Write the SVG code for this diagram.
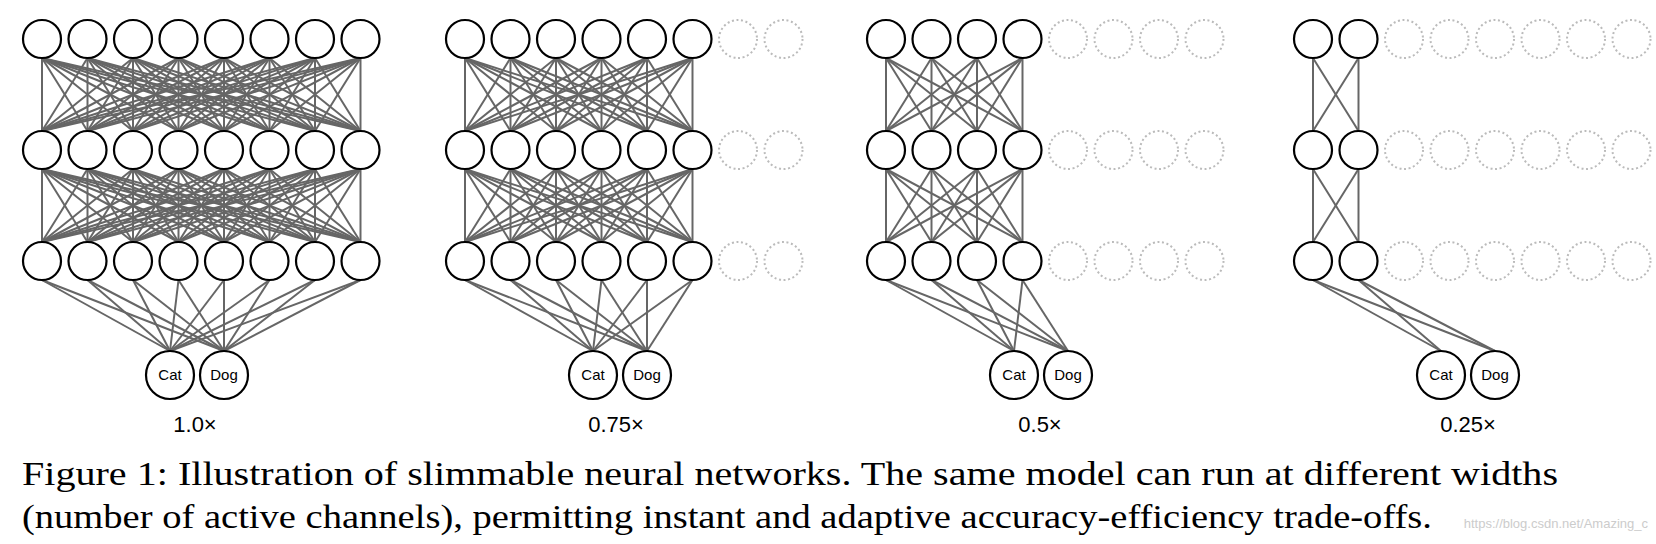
<svg xmlns="http://www.w3.org/2000/svg" xmlns:xlink="http://www.w3.org/1999/xlink" width="1656" height="544" viewBox="0 0 1656 544">
<style>
.n{fill:#fff;stroke:#000;stroke-width:2.2}
.d{fill:none;stroke:#bbb;stroke-width:2;stroke-dasharray:2 2.6}
.e line,line.e{stroke:#666;stroke-width:2}
.lb{font-family:"Liberation Sans",Arial,sans-serif;font-size:15px;text-anchor:middle}
.sc{font-family:"Liberation Sans",Arial,sans-serif;font-size:22px;text-anchor:middle}
</style>
<defs>
<g id="m2" class="e"><line x1="0" y1="0" x2="0" y2="73"/><line x1="0" y1="0" x2="45.5" y2="73"/><line x1="45.5" y1="0" x2="0" y2="73"/><line x1="45.5" y1="0" x2="45.5" y2="73"/></g>
<g id="m4" class="e">
<line x1="0" y1="0" x2="0" y2="73"/><line x1="0" y1="0" x2="45.5" y2="73"/><line x1="0" y1="0" x2="91" y2="73"/><line x1="0" y1="0" x2="136.5" y2="73"/>
<line x1="45.5" y1="0" x2="0" y2="73"/><line x1="45.5" y1="0" x2="45.5" y2="73"/><line x1="45.5" y1="0" x2="91" y2="73"/><line x1="45.5" y1="0" x2="136.5" y2="73"/>
<line x1="91" y1="0" x2="0" y2="73"/><line x1="91" y1="0" x2="45.5" y2="73"/><line x1="91" y1="0" x2="91" y2="73"/><line x1="91" y1="0" x2="136.5" y2="73"/>
<line x1="136.5" y1="0" x2="0" y2="73"/><line x1="136.5" y1="0" x2="45.5" y2="73"/><line x1="136.5" y1="0" x2="91" y2="73"/><line x1="136.5" y1="0" x2="136.5" y2="73"/>
</g>
<g id="m6" class="e">
<line x1="0" y1="0" x2="0" y2="73"/><line x1="0" y1="0" x2="45.5" y2="73"/><line x1="0" y1="0" x2="91" y2="73"/><line x1="0" y1="0" x2="136.5" y2="73"/><line x1="0" y1="0" x2="182" y2="73"/><line x1="0" y1="0" x2="227.5" y2="73"/>
<line x1="45.5" y1="0" x2="0" y2="73"/><line x1="45.5" y1="0" x2="45.5" y2="73"/><line x1="45.5" y1="0" x2="91" y2="73"/><line x1="45.5" y1="0" x2="136.5" y2="73"/><line x1="45.5" y1="0" x2="182" y2="73"/><line x1="45.5" y1="0" x2="227.5" y2="73"/>
<line x1="91" y1="0" x2="0" y2="73"/><line x1="91" y1="0" x2="45.5" y2="73"/><line x1="91" y1="0" x2="91" y2="73"/><line x1="91" y1="0" x2="136.5" y2="73"/><line x1="91" y1="0" x2="182" y2="73"/><line x1="91" y1="0" x2="227.5" y2="73"/>
<line x1="136.5" y1="0" x2="0" y2="73"/><line x1="136.5" y1="0" x2="45.5" y2="73"/><line x1="136.5" y1="0" x2="91" y2="73"/><line x1="136.5" y1="0" x2="136.5" y2="73"/><line x1="136.5" y1="0" x2="182" y2="73"/><line x1="136.5" y1="0" x2="227.5" y2="73"/>
<line x1="182" y1="0" x2="0" y2="73"/><line x1="182" y1="0" x2="45.5" y2="73"/><line x1="182" y1="0" x2="91" y2="73"/><line x1="182" y1="0" x2="136.5" y2="73"/><line x1="182" y1="0" x2="182" y2="73"/><line x1="182" y1="0" x2="227.5" y2="73"/>
<line x1="227.5" y1="0" x2="0" y2="73"/><line x1="227.5" y1="0" x2="45.5" y2="73"/><line x1="227.5" y1="0" x2="91" y2="73"/><line x1="227.5" y1="0" x2="136.5" y2="73"/><line x1="227.5" y1="0" x2="182" y2="73"/><line x1="227.5" y1="0" x2="227.5" y2="73"/>
</g>
<g id="m8" class="e">
<line x1="0" y1="0" x2="0" y2="73"/><line x1="0" y1="0" x2="45.5" y2="73"/><line x1="0" y1="0" x2="91" y2="73"/><line x1="0" y1="0" x2="136.5" y2="73"/><line x1="0" y1="0" x2="182" y2="73"/><line x1="0" y1="0" x2="227.5" y2="73"/><line x1="0" y1="0" x2="273" y2="73"/><line x1="0" y1="0" x2="318.5" y2="73"/>
<line x1="45.5" y1="0" x2="0" y2="73"/><line x1="45.5" y1="0" x2="45.5" y2="73"/><line x1="45.5" y1="0" x2="91" y2="73"/><line x1="45.5" y1="0" x2="136.5" y2="73"/><line x1="45.5" y1="0" x2="182" y2="73"/><line x1="45.5" y1="0" x2="227.5" y2="73"/><line x1="45.5" y1="0" x2="273" y2="73"/><line x1="45.5" y1="0" x2="318.5" y2="73"/>
<line x1="91" y1="0" x2="0" y2="73"/><line x1="91" y1="0" x2="45.5" y2="73"/><line x1="91" y1="0" x2="91" y2="73"/><line x1="91" y1="0" x2="136.5" y2="73"/><line x1="91" y1="0" x2="182" y2="73"/><line x1="91" y1="0" x2="227.5" y2="73"/><line x1="91" y1="0" x2="273" y2="73"/><line x1="91" y1="0" x2="318.5" y2="73"/>
<line x1="136.5" y1="0" x2="0" y2="73"/><line x1="136.5" y1="0" x2="45.5" y2="73"/><line x1="136.5" y1="0" x2="91" y2="73"/><line x1="136.5" y1="0" x2="136.5" y2="73"/><line x1="136.5" y1="0" x2="182" y2="73"/><line x1="136.5" y1="0" x2="227.5" y2="73"/><line x1="136.5" y1="0" x2="273" y2="73"/><line x1="136.5" y1="0" x2="318.5" y2="73"/>
<line x1="182" y1="0" x2="0" y2="73"/><line x1="182" y1="0" x2="45.5" y2="73"/><line x1="182" y1="0" x2="91" y2="73"/><line x1="182" y1="0" x2="136.5" y2="73"/><line x1="182" y1="0" x2="182" y2="73"/><line x1="182" y1="0" x2="227.5" y2="73"/><line x1="182" y1="0" x2="273" y2="73"/><line x1="182" y1="0" x2="318.5" y2="73"/>
<line x1="227.5" y1="0" x2="0" y2="73"/><line x1="227.5" y1="0" x2="45.5" y2="73"/><line x1="227.5" y1="0" x2="91" y2="73"/><line x1="227.5" y1="0" x2="136.5" y2="73"/><line x1="227.5" y1="0" x2="182" y2="73"/><line x1="227.5" y1="0" x2="227.5" y2="73"/><line x1="227.5" y1="0" x2="273" y2="73"/><line x1="227.5" y1="0" x2="318.5" y2="73"/>
<line x1="273" y1="0" x2="0" y2="73"/><line x1="273" y1="0" x2="45.5" y2="73"/><line x1="273" y1="0" x2="91" y2="73"/><line x1="273" y1="0" x2="136.5" y2="73"/><line x1="273" y1="0" x2="182" y2="73"/><line x1="273" y1="0" x2="227.5" y2="73"/><line x1="273" y1="0" x2="273" y2="73"/><line x1="273" y1="0" x2="318.5" y2="73"/>
<line x1="318.5" y1="0" x2="0" y2="73"/><line x1="318.5" y1="0" x2="45.5" y2="73"/><line x1="318.5" y1="0" x2="91" y2="73"/><line x1="318.5" y1="0" x2="136.5" y2="73"/><line x1="318.5" y1="0" x2="182" y2="73"/><line x1="318.5" y1="0" x2="227.5" y2="73"/><line x1="318.5" y1="0" x2="273" y2="73"/><line x1="318.5" y1="0" x2="318.5" y2="73"/>
</g>
<g id="row8"><circle class="n" cx="0" r="19"/><circle class="n" cx="45.5" r="19"/><circle class="n" cx="91" r="19"/><circle class="n" cx="136.5" r="19"/><circle class="n" cx="182" r="19"/><circle class="n" cx="227.5" r="19"/><circle class="n" cx="273" r="19"/><circle class="n" cx="318.5" r="19"/></g>
<g id="row6"><circle class="n" cx="0" r="19"/><circle class="n" cx="45.5" r="19"/><circle class="n" cx="91" r="19"/><circle class="n" cx="136.5" r="19"/><circle class="n" cx="182" r="19"/><circle class="n" cx="227.5" r="19"/><circle class="d" cx="273" r="19"/><circle class="d" cx="318.5" r="19"/></g>
<g id="row4"><circle class="n" cx="0" r="19"/><circle class="n" cx="45.5" r="19"/><circle class="n" cx="91" r="19"/><circle class="n" cx="136.5" r="19"/><circle class="d" cx="182" r="19"/><circle class="d" cx="227.5" r="19"/><circle class="d" cx="273" r="19"/><circle class="d" cx="318.5" r="19"/></g>
<g id="row2"><circle class="n" cx="0" r="19"/><circle class="n" cx="45.5" r="19"/><circle class="d" cx="91" r="19"/><circle class="d" cx="136.5" r="19"/><circle class="d" cx="182" r="19"/><circle class="d" cx="227.5" r="19"/><circle class="d" cx="273" r="19"/><circle class="d" cx="318.5" r="19"/></g>
</defs>

<g id="connectors">
<use xlink:href="#m8" x="42" y="58"/><use xlink:href="#m8" x="42" y="169"/>
<use xlink:href="#m6" x="465" y="58"/><use xlink:href="#m6" x="465" y="169"/>
<use xlink:href="#m4" x="886" y="58"/><use xlink:href="#m4" x="886" y="169"/>
<use xlink:href="#m2" x="1313" y="58"/><use xlink:href="#m2" x="1313" y="169"/>
<g class="e">
<line x1="42" y1="280" x2="170" y2="351"/><line x1="87.5" y1="280" x2="170" y2="351"/><line x1="133" y1="280" x2="170" y2="351"/><line x1="178.5" y1="280" x2="170" y2="351"/><line x1="224" y1="280" x2="170" y2="351"/><line x1="269.5" y1="280" x2="170" y2="351"/><line x1="315" y1="280" x2="170" y2="351"/><line x1="360.5" y1="280" x2="170" y2="351"/>
<line x1="42" y1="280" x2="224" y2="351"/><line x1="87.5" y1="280" x2="224" y2="351"/><line x1="133" y1="280" x2="224" y2="351"/><line x1="178.5" y1="280" x2="224" y2="351"/><line x1="224" y1="280" x2="224" y2="351"/><line x1="269.5" y1="280" x2="224" y2="351"/><line x1="315" y1="280" x2="224" y2="351"/><line x1="360.5" y1="280" x2="224" y2="351"/>
<line x1="465" y1="280" x2="593" y2="351"/><line x1="510.5" y1="280" x2="593" y2="351"/><line x1="556" y1="280" x2="593" y2="351"/><line x1="601.5" y1="280" x2="593" y2="351"/><line x1="647" y1="280" x2="593" y2="351"/><line x1="692.5" y1="280" x2="593" y2="351"/>
<line x1="465" y1="280" x2="647" y2="351"/><line x1="510.5" y1="280" x2="647" y2="351"/><line x1="556" y1="280" x2="647" y2="351"/><line x1="601.5" y1="280" x2="647" y2="351"/><line x1="647" y1="280" x2="647" y2="351"/><line x1="692.5" y1="280" x2="647" y2="351"/>
<line x1="886" y1="280" x2="1014" y2="351"/><line x1="931.5" y1="280" x2="1014" y2="351"/><line x1="977" y1="280" x2="1014" y2="351"/><line x1="1022.5" y1="280" x2="1014" y2="351"/>
<line x1="886" y1="280" x2="1068" y2="351"/><line x1="931.5" y1="280" x2="1068" y2="351"/><line x1="977" y1="280" x2="1068" y2="351"/><line x1="1022.5" y1="280" x2="1068" y2="351"/>
<line x1="1313" y1="280" x2="1441" y2="351"/><line x1="1358.5" y1="280" x2="1441" y2="351"/>
<line x1="1313" y1="280" x2="1495" y2="351"/><line x1="1358.5" y1="280" x2="1495" y2="351"/>
</g>
</g>

<g id="net-1.0">
<use id="n1-l1" xlink:href="#row8" x="42" y="39"/><use id="n1-l2" xlink:href="#row8" x="42" y="150"/><use id="n1-l3" xlink:href="#row8" x="42" y="261"/>
</g>
<g id="net-0.75">
<use id="n2-l1" xlink:href="#row6" x="465" y="39"/><use id="n2-l2" xlink:href="#row6" x="465" y="150"/><use id="n2-l3" xlink:href="#row6" x="465" y="261"/>
</g>
<g id="net-0.5">
<use id="n3-l1" xlink:href="#row4" x="886" y="39"/><use id="n3-l2" xlink:href="#row4" x="886" y="150"/><use id="n3-l3" xlink:href="#row4" x="886" y="261"/>
</g>
<g id="net-0.25">
<use id="n4-l1" xlink:href="#row2" x="1313" y="39"/><use id="n4-l2" xlink:href="#row2" x="1313" y="150"/><use id="n4-l3" xlink:href="#row2" x="1313" y="261"/>
</g>

<g id="cat1"><circle class="n" cx="170" cy="375" r="24"/><text class="lb" x="170" y="380">Cat</text></g>
<g id="dog1"><circle class="n" cx="224" cy="375" r="24"/><text class="lb" x="224" y="380">Dog</text></g>
<g id="cat2"><circle class="n" cx="593" cy="375" r="24"/><text class="lb" x="593" y="380">Cat</text></g>
<g id="dog2"><circle class="n" cx="647" cy="375" r="24"/><text class="lb" x="647" y="380">Dog</text></g>
<g id="cat3"><circle class="n" cx="1014" cy="375" r="24"/><text class="lb" x="1014" y="380">Cat</text></g>
<g id="dog3"><circle class="n" cx="1068" cy="375" r="24"/><text class="lb" x="1068" y="380">Dog</text></g>
<g id="cat4"><circle class="n" cx="1441" cy="375" r="24"/><text class="lb" x="1441" y="380">Cat</text></g>
<g id="dog4"><circle class="n" cx="1495" cy="375" r="24"/><text class="lb" x="1495" y="380">Dog</text></g>

<text class="sc" x="195" y="432">1.0×</text>
<text class="sc" x="616" y="432">0.75×</text>
<text class="sc" x="1040" y="432">0.5×</text>
<text class="sc" x="1468" y="432">0.25×</text>

<text font-family="Liberation Serif, Times New Roman, serif" font-size="33" x="22" y="485" textLength="1536" lengthAdjust="spacingAndGlyphs">Figure 1: Illustration of slimmable neural networks.  The same model can run at different widths</text>
<text font-family="Liberation Serif, Times New Roman, serif" font-size="33" x="22" y="528" textLength="1410" lengthAdjust="spacingAndGlyphs">(number of active channels), permitting instant and adaptive accuracy-efficiency trade-offs.</text>
<text x="1648" y="528" text-anchor="end" font-family="Liberation Sans, Arial, sans-serif" font-size="13" fill="#ccc">https://blog.csdn.net/Amazing_c</text>
</svg>
